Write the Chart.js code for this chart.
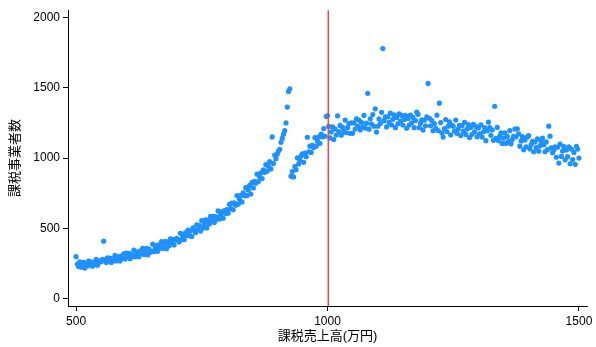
<!DOCTYPE html>
<html>
<head>
<meta charset="utf-8">
<script src="https://cdn.jsdelivr.net/npm/chart.js@4/dist/chart.umd.min.js"></script>
<style>
  html, body { margin: 0; padding: 0; background: #fff; }
  #wrap { width: 596px; height: 347px; }
</style>
</head>
<body>
<div id="wrap"><canvas id="c" width="596" height="347"></canvas></div>
<script>
// 課税売上高 (万円)
const sales = [
  500,502.5,505,507.5,510,512.5,515,517.5,520,522.5,525,527.5,530,532.5,535,537.5,540,542.5,545,547.5,
  550,552.5,555,557.5,560,562.5,565,567.5,570,572.5,575,577.5,580,582.5,585,587.5,590,592.5,595,597.5,
  600,602.5,605,607.5,610,612.5,615,617.5,620,622.5,625,627.5,630,632.5,635,637.5,640,642.5,645,647.5,
  650,652.5,655,657.5,660,662.5,665,667.5,670,672.5,675,677.5,680,682.5,685,687.5,690,692.5,695,697.5,
  700,702.5,705,707.5,710,712.5,715,717.5,720,722.5,725,727.5,730,732.5,735,737.5,740,742.5,745,747.5,
  750,752.5,755,757.5,760,762.5,765,767.5,770,772.5,775,777.5,780,782.5,785,787.5,790,792.5,795,797.5,
  800,802.5,805,807.5,810,812.5,815,817.5,820,822.5,825,827.5,830,832.5,835,837.5,840,842.5,845,847.5,
  850,852.5,855,857.5,860,862.5,865,867.5,870,872.5,875,877.5,880,882.5,885,887.5,890,892.5,895,897.5,
  900,902.5,905,907.5,910,912.5,915,917.5,920,922.5,925,927.5,930,932.5,935,937.5,940,942.5,945,947.5,
  950,952.5,955,957.5,960,962.5,965,967.5,970,972.5,975,977.5,980,982.5,985,987.5,990,992.5,995,997.5,
  1000,1002.5,1005,1007.5,1010,1012.5,1015,1017.5,1020,1022.5,1025,1027.5,1030,1032.5,1035,1037.5,1040,1042.5,1045,1047.5,
  1050,1052.5,1055,1057.5,1060,1062.5,1065,1067.5,1070,1072.5,1075,1077.5,1080,1082.5,1085,1087.5,1090,1092.5,1095,1097.5,
  1100,1102.5,1105,1107.5,1110,1112.5,1115,1117.5,1120,1122.5,1125,1127.5,1130,1132.5,1135,1137.5,1140,1142.5,1145,1147.5,
  1150,1152.5,1155,1157.5,1160,1162.5,1165,1167.5,1170,1172.5,1175,1177.5,1180,1182.5,1185,1187.5,1190,1192.5,1195,1197.5,
  1200,1202.5,1205,1207.5,1210,1212.5,1215,1217.5,1220,1222.5,1225,1227.5,1230,1232.5,1235,1237.5,1240,1242.5,1245,1247.5,
  1250,1252.5,1255,1257.5,1260,1262.5,1265,1267.5,1270,1272.5,1275,1277.5,1280,1282.5,1285,1287.5,1290,1292.5,1295,1297.5,
  1300,1302.5,1305,1307.5,1310,1312.5,1315,1317.5,1320,1322.5,1325,1327.5,1330,1332.5,1335,1337.5,1340,1342.5,1345,1347.5,
  1350,1352.5,1355,1357.5,1360,1362.5,1365,1367.5,1370,1372.5,1375,1377.5,1380,1382.5,1385,1387.5,1390,1392.5,1395,1397.5,
  1400,1402.5,1405,1407.5,1410,1412.5,1415,1417.5,1420,1422.5,1425,1427.5,1430,1432.5,1435,1437.5,1440,1442.5,1445,1447.5,
  1450,1452.5,1455,1457.5,1460,1462.5,1465,1467.5,1470,1472.5,1475,1477.5,1480,1482.5,1485,1487.5,1490,1492.5,1495,1497.5,1500
];

// 課税事業者数
const firms = [
  300,248,231,263,225,244,260,219,254,234,268,245,264,233,258,244,281,240,257,270,
  265,282,410,277,258,292,270,290,259,285,272,310,270,287,301,269,304,288,320,283,
  325,298,323,286,317,301,346,299,319,335,299,340,322,359,315,340,359,312,354,331,
  338,389,336,360,379,338,385,364,407,359,386,409,356,403,378,426,397,424,383,418,
  431,420,405,466,423,448,421,470,451,488,449,482,443,504,489,470,527,492,521,482,
  556,503,534,562,504,559,532,587,556,587,543,584,566,625,568,595,618,573,628,606,
  635,609,672,641,680,633,682,666,734,673,707,736,689,753,732,790,734,773,806,745,
  827,788,835,822,886,834,867,895,855,916,899,954,907,943,976,923,1150,962,1022,996,
  1028,1050,1062,1112,1140,1170,1195,1250,1362,1472,1492,872,905,866,940,918,1002,958,985,1015,
  1030,970,1035,1010,1148,1045,1085,1040,1090,1075,1145,1085,1120,1150,1105,1170,1150,1210,1155,1295,
  1302,1225,1143,1186,1221,1132,1207,1164,1300,1189,1232,1163,1218,1188,1270,1180,1216,1245,1176,1251,
  1176,1250,1206,1279,1228,1270,1200,1254,1222,1303,1213,1248,1460,1205,1279,1242,1309,1226,1350,1185,
  1226,1278,1245,1325,1778,1266,1292,1221,1293,1254,1319,1235,1275,1307,1216,1289,1243,1315,1262,1303,
  1235,1274,1304,1212,1282,1235,1305,1251,1289,1216,1267,1326,1310,1216,1248,1272,1199,1269,1229,1292,
  1530,1283,1229,1267,1194,1245,1211,1305,1196,1390,1252,1179,1149,1210,1274,1187,1226,1257,1165,1235,
  1226,1192,1270,1176,1208,1233,1160,1231,1191,1254,1168,1207,1238,1146,1217,1169,1240,1186,1225,1151,
  1214,1173,1236,1149,1187,1217,1124,1194,1255,1216,1162,1200,1126,1368,1141,1218,1124,1155,1179,1104,
  1141,1179,1104,1154,1119,1195,1101,1132,1155,1206,1151,1208,1172,1085,1122,1152,1059,1128,1080,1150,
  1159,1065,1096,1119,1045,1115,1074,1137,1049,1087,1117,1142,1094,1045,1115,1060,1227,1156,1073,1038,
  1056,1080,1006,1077,965,1099,1012,1050,1081,988,1058,1010,1080,960,1064,990,1040,956,1083,1064,1000
];

// 免税点 (1000万円)
const threshold = 1000;

const xTicks = [500, 1000, 1500];
const yTicks = [0, 500, 1000, 1500, 2000];

const X_MIN = 484, X_MAX = 1516;
const Y_MIN = -50, Y_MAX = 2050;

const tickFont = { family: '"Liberation Sans", Arial, "Noto Sans CJK JP", sans-serif', size: 12 };
const titleFont = { family: '"Liberation Sans", Arial, "Noto Sans CJK JP", sans-serif', size: 13 };

const points = sales.map((x, i) => ({ x: x, y: firms[i] }));

// vertical reference line at the threshold, placed with the x scale
const thresholdLine = {
  id: 'thresholdLine',
  afterDatasetsDraw(chart) {
    const { ctx, chartArea, scales } = chart;
    const px = Math.round(scales.x.getPixelForValue(threshold)) + 0.25;
    ctx.save();
    ctx.strokeStyle = 'rgb(240, 62, 60)';
    ctx.lineWidth = 1.4;
    ctx.beginPath();
    ctx.moveTo(px, chartArea.top);
    ctx.lineTo(px, chartArea.bottom);
    ctx.stroke();
    ctx.restore();
  }
};

new Chart(document.getElementById('c'), {
  type: 'scatter',
  data: {
    datasets: [
      {
        data: points,
        backgroundColor: '#1e90ff',
        borderWidth: 0,
        pointRadius: 2.6,
        pointHoverRadius: 2.6
      }
    ]
  },
  options: {
    responsive: false,
    animation: false,
    devicePixelRatio: 1,
    layout: { padding: { top: 10, right: 9, left: 0, bottom: 0 } },
    plugins: { legend: { display: false }, tooltip: { enabled: false } },
    scales: {
      x: {
        type: 'linear',
        position: 'bottom',
        min: X_MIN,
        max: X_MAX,
        afterBuildTicks: s => { s.ticks = xTicks.map(v => ({ value: v })); },
        afterFit: s => { s.height = 41; },
        grid: { drawOnChartArea: false, drawTicks: true, tickLength: 5, color: '#000', lineWidth: 1 },
        border: { display: true, color: '#000', width: 1 },
        ticks: { color: '#000', font: tickFont, padding: 3, maxRotation: 0, callback: v => String(v) },
        title: { display: true, text: '課税売上高(万円)', color: '#000', font: titleFont, padding: { top: 0, bottom: 3 } }
      },
      y: {
        type: 'linear',
        position: 'left',
        min: Y_MIN,
        max: Y_MAX,
        afterBuildTicks: s => { s.ticks = yTicks.map(v => ({ value: v })); },
        afterFit: s => { s.width = 68; },
        grid: { drawOnChartArea: false, drawTicks: true, tickLength: 5, color: '#000', lineWidth: 1 },
        border: { display: true, color: '#000', width: 1 },
        ticks: { color: '#000', font: tickFont, padding: 3, callback: v => String(v) },
        title: { display: true, text: '課税事業者数', color: '#000', font: titleFont, padding: { top: 8, bottom: 0 } }
      }
    }
  },
  plugins: [thresholdLine]
});
</script>
</body>
</html>
